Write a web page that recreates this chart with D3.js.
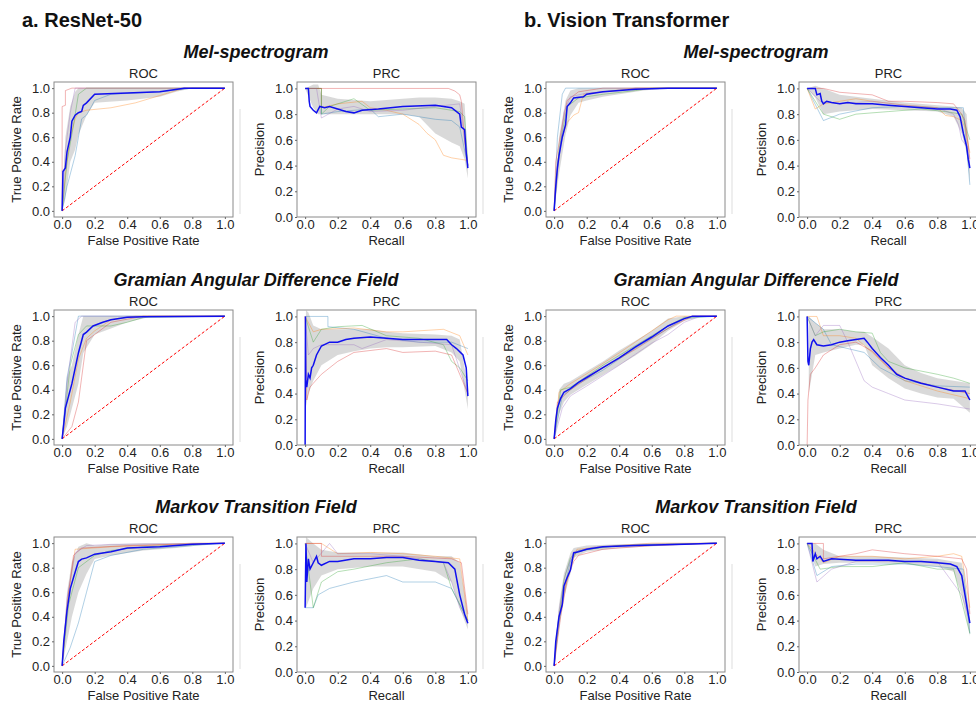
<!DOCTYPE html>
<html lang="en">
<head>
<meta charset="UTF-8">
<title>ROC / PRC curves</title>
<script src="https://d3js.org/d3.v7.min.js"></script>
<style>
  body { margin: 0; background: #fff; }
  text { font-family: "Liberation Sans", Arial, sans-serif; fill: #222; }
</style>
</head>
<body>
<div id="chart"></div>
<script>
// ---------- labels ----------
const modelTitles = ["a. ResNet-50", "b. Vision Transformer"];
const rowTitles = ["Mel-spectrogram", "Gramian Angular Difference Field", "Markov Transition Field"];
const ticks = [0, 0.2, 0.4, 0.6, 0.8, 1.0];

// ---------- ResNet-50 / Mel-spectrogram ----------
const resMelRocMean = [[0,0],[0.005,0.32],[0.02,0.35],[0.03,0.48],[0.05,0.6],[0.06,0.73],[0.08,0.78],[0.1,0.8],[0.12,0.81],[0.13,0.86],[0.15,0.88],[0.2,0.95],[0.4,0.96],[0.6,0.97],[0.75,1],[1,1]];
const resMelRocBand = [[0,0,0],[0.02,0.1,0.6],[0.05,0.4,0.85],[0.08,0.5,0.97],[0.1,0.62,1],[0.15,0.78,1],[0.2,0.88,1],[0.4,0.9,1],[0.6,0.93,1],[0.7,0.97,1],[0.8,1,1],[1,1,1]];
const resMelRocFolds = [
  [[0,0],[0.03,0.2],[0.08,0.45],[0.1,0.6],[0.12,0.75],[0.15,0.78],[0.18,0.85],[0.2,0.9],[0.3,0.95],[0.6,0.97],[0.8,1],[1,1]],
  [[0,0],[0.02,0.3],[0.05,0.6],[0.08,0.75],[0.1,0.8],[0.15,0.82],[0.3,0.84],[0.45,0.88],[0.6,0.94],[0.7,0.98],[0.75,1],[1,1]],
  [[0,0],[0.03,0.4],[0.07,0.7],[0.1,0.95],[0.15,1],[1,1]],
  [[0,0],[0,0.85],[0.02,0.86],[0.02,0.98],[0.06,1],[1,1]],
  [[0,0],[0.02,0.5],[0.05,0.8],[0.08,1],[1,1]]
];
const resMelPrcMean = [[0,1],[0.02,1],[0.025,0.9],[0.03,0.86],[0.05,0.83],[0.07,0.81],[0.09,0.86],[0.12,0.85],[0.15,0.86],[0.2,0.84],[0.25,0.82],[0.3,0.81],[0.35,0.83],[0.45,0.84],[0.6,0.86],[0.8,0.87],[0.9,0.85],[0.95,0.8],[0.96,0.7],[0.98,0.68],[0.99,0.5],[1,0.38]];
const resMelPrcBand = [[0,1,1],[0.05,0.85,1.03],[0.08,0.8,1.03],[0.1,0.8,0.95],[0.2,0.8,0.92],[0.4,0.8,0.9],[0.6,0.8,0.92],[0.7,0.78,0.93],[0.8,0.65,0.93],[0.9,0.58,0.92],[0.95,0.55,0.9],[0.98,0.45,0.88],[1,0.3,0.45]];
const resMelPrcFolds = [
  [[0,1],[0.1,1],[0.1,0.8],[0.2,0.82],[0.4,0.84],[0.45,0.78],[0.6,0.8],[0.8,0.76],[0.9,0.75],[0.95,0.7],[1,0.4]],
  [[0,1],[0.1,1],[0.1,0.85],[0.2,0.88],[0.35,0.9],[0.4,0.85],[0.5,0.83],[0.6,0.8],[0.7,0.72],[0.75,0.65],[0.8,0.6],[0.85,0.48],[0.9,0.46],[0.95,0.45],[1,0.44]],
  [[0,1],[0.1,1],[0.1,0.8],[0.15,0.86],[0.25,0.9],[0.3,0.92],[0.4,0.83],[0.6,0.84],[0.8,0.85],[0.95,0.82],[0.98,0.78],[1,0.4]],
  [[0,1],[0.7,1],[0.88,1],[0.92,0.98],[0.95,0.95],[0.96,0.9],[0.98,0.6],[1,0.4]],
  [[0,1],[0.07,1],[0.1,0.77],[0.2,0.84],[0.3,0.86],[0.4,0.82],[0.6,0.83],[0.8,0.86],[0.95,0.88],[0.98,0.6],[1,0.4]]
];

// ---------- ViT / Mel-spectrogram ----------
const vitMelRocMean = [[0,0],[0.01,0.2],[0.02,0.35],[0.03,0.45],[0.05,0.6],[0.07,0.7],[0.08,0.85],[0.1,0.88],[0.12,0.92],[0.18,0.93],[0.2,0.95],[0.3,0.97],[0.5,0.99],[0.7,1],[1,1]];
const vitMelRocBand = [[0,0,0],[0.03,0.3,0.6],[0.07,0.62,0.9],[0.1,0.78,0.98],[0.15,0.88,1],[0.2,0.9,1],[0.3,0.93,1],[0.45,0.96,1],[0.55,0.98,1],[0.7,1,1],[1,1,1]];
const vitMelRocFolds = [
  [[0,0],[0.02,0.6],[0.05,0.95],[0.07,1],[1,1]],
  [[0,0],[0.02,0.4],[0.05,0.6],[0.08,0.72],[0.12,0.78],[0.15,0.8],[0.18,0.95],[0.3,0.97],[0.5,1],[1,1]],
  [[0,0],[0.03,0.5],[0.08,0.85],[0.15,0.92],[0.3,0.95],[0.5,0.98],[0.6,1],[1,1]],
  [[0,0],[0.01,0.4],[0.05,0.7],[0.08,0.9],[0.15,0.97],[0.3,1],[1,1]],
  [[0,0],[0.02,0.3],[0.06,0.8],[0.1,0.93],[0.2,0.96],[0.4,0.98],[0.5,1],[1,1]]
];
const vitMelPrcMean = [[0,1],[0.05,1],[0.06,0.95],[0.08,0.96],[0.09,0.9],[0.1,0.88],[0.12,0.9],[0.15,0.89],[0.2,0.88],[0.25,0.89],[0.3,0.88],[0.4,0.88],[0.5,0.87],[0.6,0.86],[0.7,0.85],[0.8,0.84],[0.88,0.84],[0.92,0.83],[0.94,0.78],[0.96,0.65],[0.98,0.55],[0.99,0.45],[1,0.38]];
const vitMelPrcBand = [[0,1,1],[0.05,0.93,1.02],[0.1,0.8,1],[0.2,0.82,0.95],[0.4,0.84,0.92],[0.6,0.83,0.89],[0.8,0.82,0.87],[0.9,0.78,0.86],[0.95,0.65,0.85],[0.98,0.5,0.8],[1,0.27,0.45]];
const vitMelPrcFolds = [
  [[0,1],[0.1,0.75],[0.2,0.8],[0.4,0.85],[0.6,0.86],[0.8,0.85],[0.96,0.85],[1,0.25]],
  [[0,1],[0.05,0.84],[0.1,0.88],[0.3,0.92],[0.4,0.9],[0.6,0.87],[0.8,0.85],[0.85,0.79],[0.9,0.78],[0.95,0.75],[0.97,0.7],[1,0.5]],
  [[0,1],[0.1,0.8],[0.2,0.76],[0.3,0.8],[0.5,0.82],[0.7,0.84],[0.85,0.82],[0.95,0.8],[1,0.6]],
  [[0,1],[0.1,1],[0.2,0.97],[0.4,0.95],[0.5,0.9],[0.6,0.9],[0.8,0.89],[0.9,0.88],[0.95,0.8],[0.97,0.75],[1,0.45]],
  [[0,1],[0.08,0.9],[0.2,0.88],[0.4,0.9],[0.6,0.87],[0.8,0.85],[0.9,0.8],[0.93,0.72],[0.95,0.6],[0.98,0.55],[1,0.4]]
];

// ---------- ResNet-50 / GADF ----------
const resGadfRocMean = [[0,0],[0.01,0.12],[0.02,0.25],[0.04,0.35],[0.06,0.45],[0.1,0.7],[0.13,0.85],[0.15,0.87],[0.19,0.92],[0.25,0.95],[0.3,0.97],[0.4,0.99],[0.5,0.995],[1,1]];
const resGadfRocBand = [[0,0,0],[0.03,0.1,0.5],[0.06,0.25,0.6],[0.1,0.45,0.85],[0.13,0.7,1],[0.2,0.85,1],[0.3,0.9,1],[0.4,0.95,1],[0.5,0.98,1],[0.55,1,1],[1,1,1]];
const resGadfRocFolds = [
  [[0,0],[0.03,0.5],[0.06,0.7],[0.1,1],[1,1]],
  [[0,0],[0.05,0.3],[0.1,0.65],[0.15,0.82],[0.2,0.88],[0.3,0.97],[0.45,1],[1,1]],
  [[0,0],[0.05,0.6],[0.1,0.85],[0.15,0.92],[0.3,0.92],[0.4,0.95],[0.45,0.97],[0.5,0.99],[1,1]],
  [[0,0],[0.06,0.1],[0.1,0.3],[0.13,0.6],[0.15,0.8],[0.2,0.85],[0.3,0.95],[0.5,1],[1,1]],
  [[0,0],[0.03,0.45],[0.08,0.95],[0.12,1],[1,1]]
];
const resGadfPrcMean = [[0,0],[0.002,1],[0.004,0.5],[0.01,0.45],[0.02,0.55],[0.03,0.52],[0.04,0.6],[0.05,0.62],[0.07,0.7],[0.1,0.77],[0.15,0.8],[0.2,0.8],[0.25,0.82],[0.3,0.83],[0.4,0.84],[0.5,0.83],[0.6,0.82],[0.7,0.82],[0.8,0.82],[0.87,0.82],[0.9,0.78],[0.93,0.75],[0.97,0.7],[0.99,0.6],[1,0.38]];
const resGadfPrcBand = [[0.005,0.3,1.05],[0.02,0.4,1.03],[0.05,0.5,0.93],[0.1,0.62,0.9],[0.2,0.7,0.9],[0.3,0.73,0.9],[0.4,0.75,0.9],[0.5,0.76,0.88],[0.6,0.76,0.87],[0.8,0.77,0.86],[0.9,0.72,0.85],[0.95,0.65,0.82],[1,0.28,0.45]];
const resGadfPrcFolds = [
  [[0,1],[0.14,1],[0.14,0.92],[0.3,0.9],[0.5,0.83],[0.7,0.8],[0.9,0.8],[1,0.75]],
  [[0,1],[0.05,0.88],[0.1,0.9],[0.3,0.91],[0.5,0.88],[0.6,0.88],[0.85,0.9],[0.95,0.85],[1,0.7]],
  [[0,1],[0.05,0.8],[0.1,0.9],[0.2,0.92],[0.35,0.93],[0.5,0.85],[0.7,0.83],[0.85,0.78],[0.9,0.65],[0.95,0.6],[1,0.5]],
  [[0,1],[0.01,0.35],[0.03,0.45],[0.05,0.48],[0.1,0.55],[0.2,0.65],[0.3,0.72],[0.5,0.75],[0.6,0.72],[0.8,0.73],[0.9,0.7],[1,0.4]],
  [[0,1],[0.02,0.7],[0.05,0.75],[0.1,0.78],[0.3,0.78],[0.35,0.75],[0.5,0.82],[0.7,0.8],[0.9,0.78],[1,0.4]]
];

// ---------- ViT / GADF ----------
const vitGadfRocMean = [[0,0],[0.01,0.15],[0.02,0.25],[0.04,0.33],[0.06,0.38],[0.1,0.41],[0.15,0.46],[0.2,0.5],[0.3,0.58],[0.4,0.66],[0.5,0.75],[0.6,0.83],[0.7,0.92],[0.8,0.98],[0.85,1],[1,1]];
const vitGadfRocBand = [[0,0,0],[0.03,0.2,0.4],[0.06,0.3,0.45],[0.1,0.36,0.47],[0.2,0.44,0.55],[0.3,0.52,0.63],[0.4,0.6,0.72],[0.5,0.68,0.8],[0.6,0.77,0.88],[0.7,0.88,0.98],[0.8,0.96,1],[0.9,1,1],[1,1,1]];
const vitGadfRocFolds = [
  [[0,0],[0.05,0.35],[0.15,0.45],[0.3,0.56],[0.5,0.74],[0.65,0.86],[0.8,0.98],[1,1]],
  [[0,0],[0.03,0.38],[0.1,0.45],[0.2,0.53],[0.4,0.7],[0.6,0.88],[0.7,0.97],[0.75,1],[1,1]],
  [[0,0],[0.04,0.4],[0.1,0.42],[0.3,0.6],[0.5,0.76],[0.7,0.92],[0.8,0.99],[1,1]],
  [[0,0],[0.02,0.3],[0.1,0.4],[0.3,0.58],[0.5,0.73],[0.7,0.9],[0.85,1],[1,1]],
  [[0,0],[0.05,0.25],[0.1,0.35],[0.2,0.43],[0.4,0.6],[0.6,0.78],[0.7,0.85],[0.8,0.95],[0.9,1],[1,1]]
];
const vitGadfPrcMean = [[0,1],[0.005,0.65],[0.01,0.62],[0.02,0.75],[0.03,0.8],[0.04,0.82],[0.06,0.78],[0.1,0.77],[0.15,0.78],[0.2,0.8],[0.25,0.81],[0.3,0.82],[0.35,0.83],[0.37,0.8],[0.4,0.75],[0.45,0.68],[0.5,0.62],[0.55,0.55],[0.6,0.52],[0.7,0.48],[0.8,0.45],[0.9,0.42],[0.97,0.42],[1,0.35]];
const vitGadfPrcBand = [[0.01,0.4,1],[0.05,0.7,0.95],[0.1,0.72,0.9],[0.2,0.75,0.9],[0.3,0.78,0.88],[0.35,0.78,0.88],[0.4,0.62,0.84],[0.5,0.52,0.75],[0.6,0.44,0.62],[0.7,0.4,0.56],[0.8,0.37,0.52],[0.9,0.36,0.5],[1,0.25,0.48]];
const vitGadfPrcFolds = [
  [[0,1],[0.1,0.9],[0.15,0.78],[0.25,0.75],[0.35,0.72],[0.45,0.6],[0.6,0.5],[0.8,0.46],[1,0.45]],
  [[0,1],[0.06,1],[0.1,0.85],[0.2,0.85],[0.3,0.83],[0.4,0.72],[0.5,0.6],[0.6,0.5],[0.8,0.42],[1,0.36]],
  [[0,1],[0.05,0.85],[0.1,0.88],[0.2,0.9],[0.3,0.88],[0.4,0.87],[0.45,0.72],[0.5,0.65],[0.6,0.6],[0.8,0.55],[0.9,0.52],[1,0.48]],
  [[0,0],[0.005,0.35],[0.02,0.55],[0.05,0.6],[0.1,0.7],[0.2,0.78],[0.3,0.8],[0.4,0.73],[0.5,0.6],[0.6,0.52],[0.8,0.45],[1,0.4]],
  [[0,1],[0.05,0.85],[0.1,0.93],[0.2,0.93],[0.25,0.8],[0.3,0.65],[0.35,0.5],[0.4,0.45],[0.5,0.4],[0.6,0.35],[0.8,0.32],[1,0.28]]
];

// ---------- ResNet-50 / MTF ----------
const resMtfRocMean = [[0,0],[0.01,0.2],[0.03,0.45],[0.05,0.63],[0.07,0.72],[0.1,0.85],[0.12,0.87],[0.15,0.88],[0.2,0.91],[0.3,0.93],[0.4,0.96],[0.6,0.97],[0.8,0.99],[1,1]];
const resMtfRocBand = [[0,0,0],[0.03,0.2,0.6],[0.06,0.4,0.85],[0.1,0.6,0.97],[0.15,0.75,1],[0.2,0.87,0.98],[0.3,0.9,0.99],[0.5,0.94,1],[0.7,0.96,1],[0.9,0.99,1],[1,1,1]];
const resMtfRocFolds = [
  [[0,0],[0.05,0.15],[0.1,0.35],[0.15,0.6],[0.2,0.85],[0.3,0.9],[0.5,0.95],[0.8,0.98],[1,1]],
  [[0,0],[0.04,0.6],[0.08,0.95],[0.3,0.97],[0.5,0.98],[0.8,1],[1,1]],
  [[0,0],[0.04,0.5],[0.1,0.8],[0.2,0.9],[0.3,0.94],[0.5,0.97],[1,1]],
  [[0,0],[0.03,0.5],[0.07,0.9],[0.12,0.96],[0.4,0.98],[1,1]],
  [[0,0],[0.03,0.55],[0.08,0.92],[0.15,0.98],[0.3,0.99],[1,1]]
];
const resMtfPrcMean = [[0,0.5],[0.005,1],[0.01,0.7],[0.02,0.88],[0.03,0.8],[0.05,0.85],[0.07,0.9],[0.08,0.85],[0.1,0.83],[0.15,0.86],[0.2,0.86],[0.3,0.88],[0.4,0.88],[0.5,0.89],[0.6,0.89],[0.7,0.87],[0.8,0.86],[0.88,0.85],[0.92,0.8],[0.95,0.6],[0.98,0.45],[1,0.38]];
const resMtfPrcBand = [[0.005,0.5,1.05],[0.05,0.65,1],[0.1,0.75,0.95],[0.2,0.8,0.93],[0.4,0.82,0.93],[0.6,0.82,0.93],[0.8,0.78,0.9],[0.9,0.7,0.9],[0.95,0.5,0.85],[1,0.33,0.45]];
const resMtfPrcFolds = [
  [[0,0.5],[0.05,0.5],[0.08,0.6],[0.15,0.65],[0.3,0.7],[0.5,0.75],[0.6,0.7],[0.8,0.7],[0.9,0.65],[1,0.4]],
  [[0,1],[0.1,1],[0.2,0.92],[0.4,0.93],[0.6,0.92],[0.8,0.9],[0.95,0.88],[0.98,0.6],[1,0.4]],
  [[0,1],[0.05,0.5],[0.1,0.7],[0.2,0.78],[0.3,0.8],[0.5,0.85],[0.7,0.88],[0.85,0.85],[0.9,0.65],[1,0.4]],
  [[0,1],[0.1,1],[0.1,0.9],[0.3,0.9],[0.6,0.9],[0.9,0.88],[0.96,0.85],[1,0.45]],
  [[0,1],[0.05,0.85],[0.15,1],[0.2,0.92],[0.4,0.92],[0.6,0.9],[0.85,0.85],[0.9,0.7],[0.95,0.5],[1,0.38]]
];

// ---------- ViT / MTF ----------
const vitMtfRocMean = [[0,0],[0.01,0.2],[0.03,0.4],[0.05,0.5],[0.06,0.65],[0.08,0.72],[0.1,0.78],[0.12,0.92],[0.15,0.93],[0.2,0.95],[0.3,0.97],[0.5,0.98],[0.8,0.99],[1,1]];
const vitMtfRocBand = [[0,0,0],[0.03,0.3,0.5],[0.06,0.55,0.75],[0.1,0.75,0.92],[0.12,0.88,0.96],[0.2,0.93,0.98],[0.4,0.96,0.99],[0.7,0.98,1],[1,1,1]];
const vitMtfRocFolds = [
  [[0,0],[0.03,0.35],[0.07,0.68],[0.1,0.85],[0.14,0.93],[0.3,0.97],[0.6,0.99],[1,1]],
  [[0,0],[0.03,0.4],[0.06,0.6],[0.1,0.8],[0.14,0.95],[0.3,0.97],[0.6,1],[1,1]],
  [[0,0],[0.02,0.3],[0.06,0.7],[0.1,0.88],[0.15,0.94],[0.4,0.98],[1,1]],
  [[0,0],[0.04,0.4],[0.08,0.7],[0.12,0.85],[0.15,0.9],[0.3,0.95],[0.6,0.98],[1,1]],
  [[0,0],[0.03,0.45],[0.07,0.75],[0.12,0.93],[0.25,0.97],[0.5,0.99],[1,1]]
];
const vitMtfPrcMean = [[0,1],[0.03,1],[0.035,0.86],[0.05,0.92],[0.06,0.88],[0.08,0.9],[0.1,0.86],[0.15,0.88],[0.3,0.87],[0.5,0.87],[0.6,0.86],[0.7,0.86],[0.8,0.85],[0.88,0.84],[0.92,0.82],[0.95,0.75],[0.97,0.6],[0.99,0.45],[1,0.38]];
const vitMtfPrcBand = [[0,1,1],[0.05,0.82,1],[0.1,0.84,0.95],[0.2,0.85,0.9],[0.4,0.85,0.9],[0.6,0.84,0.89],[0.8,0.82,0.88],[0.9,0.78,0.86],[0.95,0.6,0.85],[1,0.28,0.45]];
const vitMtfPrcFolds = [
  [[0,1],[0.06,0.75],[0.15,0.82],[0.3,0.84],[0.6,0.84],[0.8,0.82],[0.96,0.8],[1,0.3]],
  [[0,1],[0.1,0.85],[0.2,0.9],[0.4,0.9],[0.6,0.88],[0.8,0.9],[0.9,0.92],[0.95,0.9],[1,0.5]],
  [[0,1],[0.08,0.8],[0.2,0.82],[0.4,0.82],[0.6,0.85],[0.8,0.8],[0.9,0.8],[1,0.3]],
  [[0,1],[0.1,1],[0.1,0.88],[0.3,0.92],[0.4,0.95],[0.6,0.92],[0.8,0.9],[0.95,0.88],[0.98,0.8],[1,0.45]],
  [[0,1],[0.06,0.7],[0.15,0.8],[0.3,0.86],[0.6,0.86],[0.8,0.86],[0.95,0.6],[1,0.4]]
];

// panel table: model (0 ResNet, 1 ViT), row (0 Mel, 1 GADF, 2 MTF), kind
const panels = [
  {model:0, row:0, kind:"roc", mean:resMelRocMean, band:resMelRocBand, folds:resMelRocFolds},
  {model:0, row:0, kind:"prc", mean:resMelPrcMean, band:resMelPrcBand, folds:resMelPrcFolds},
  {model:1, row:0, kind:"roc", mean:vitMelRocMean, band:vitMelRocBand, folds:vitMelRocFolds},
  {model:1, row:0, kind:"prc", mean:vitMelPrcMean, band:vitMelPrcBand, folds:vitMelPrcFolds},
  {model:0, row:1, kind:"roc", mean:resGadfRocMean, band:resGadfRocBand, folds:resGadfRocFolds},
  {model:0, row:1, kind:"prc", mean:resGadfPrcMean, band:resGadfPrcBand, folds:resGadfPrcFolds},
  {model:1, row:1, kind:"roc", mean:vitGadfRocMean, band:vitGadfRocBand, folds:vitGadfRocFolds},
  {model:1, row:1, kind:"prc", mean:vitGadfPrcMean, band:vitGadfPrcBand, folds:vitGadfPrcFolds},
  {model:0, row:2, kind:"roc", mean:resMtfRocMean, band:resMtfRocBand, folds:resMtfRocFolds},
  {model:0, row:2, kind:"prc", mean:resMtfPrcMean, band:resMtfPrcBand, folds:resMtfPrcFolds},
  {model:1, row:2, kind:"roc", mean:vitMtfRocMean, band:vitMtfRocBand, folds:vitMtfRocFolds},
  {model:1, row:2, kind:"prc", mean:vitMtfPrcMean, band:vitMtfPrcBand, folds:vitMtfPrcFolds}
];

// ---------- layout ----------
const width = 976, height = 701;
const colLeft = [54, 297, 546, 799];   // ResNet ROC, ResNet PRC, ViT ROC, ViT PRC
const rowTop = [82, 310, 537];
const W = 179, H = 135;
const foldColors = ["#1f77b4", "#ff7f0e", "#2ca02c", "#d62728", "#9467bd"];

const svg = d3.select("#chart").append("svg")
  .attr("width", width)
  .attr("height", height);

// model titles
svg.selectAll("text.model")
  .data(modelTitles)
  .enter().append("text")
    .attr("class", "model")
    .attr("x", (d, i) => i === 0 ? 22 : 524)
    .attr("y", 27)
    .attr("font-size", "20px")
    .attr("font-weight", "bold")
    .style("fill", "#111")
    .text(d => d);

// row titles (one per model)
rowTitles.forEach((t, r) => {
  [256, 756].forEach(cx => {
    svg.append("text")
      .attr("x", cx)
      .attr("y", rowTop[r] - 24)
      .attr("text-anchor", "middle")
      .attr("font-size", "18px")
      .attr("font-weight", "bold")
      .attr("font-style", "italic")
      .style("fill", "#111")
      .text(t);
  });
});

panels.forEach((p, idx) => {
  const left = colLeft[p.model * 2 + (p.kind === "roc" ? 0 : 1)];
  const top = rowTop[p.row];

  const x = d3.scaleLinear().domain([-0.05, 1.05]).range([left, left + W]);
  const y = d3.scaleLinear()
    .domain(p.kind === "roc" ? [-0.05, 1.05] : [0, 1.05])
    .range([top + H, top]);

  const g = svg.append("g");

  // faint edge of the neighbouring (cropped) legend box
  g.append("line")
    .attr("x1", left + W + 7).attr("x2", left + W + 7)
    .attr("y1", top + 27).attr("y2", top + H - 3)
    .attr("stroke", "#ddd")
    .attr("stroke-width", 1);

  const clipId = "clip" + idx;
  g.append("clipPath").attr("id", clipId)
    .append("rect")
      .attr("x", left).attr("y", top)
      .attr("width", W).attr("height", H);

  const plot = g.append("g").attr("clip-path", "url(#" + clipId + ")");

  // std band
  const area = d3.area()
    .x(d => x(d[0]))
    .y0(d => y(d[1]))
    .y1(d => y(d[2]));
  plot.append("path")
    .datum(p.band)
    .attr("d", area)
    .attr("fill", "grey")
    .attr("opacity", 0.3);

  const line = d3.line().x(d => x(d[0])).y(d => y(d[1]));

  // individual folds
  plot.selectAll("path.fold")
    .data(p.folds)
    .enter().append("path")
      .attr("class", "fold")
      .attr("d", line)
      .attr("fill", "none")
      .attr("stroke", (d, i) => foldColors[i])
      .attr("stroke-opacity", 0.35)
      .attr("stroke-width", 1);

  // chance line
  if (p.kind === "roc") {
    plot.append("path")
      .datum([[0, 0], [1, 1]])
      .attr("d", line)
      .attr("fill", "none")
      .attr("stroke", "red")
      .attr("stroke-width", 1)
      .attr("stroke-dasharray", "3,2");
  }

  // mean curve
  plot.append("path")
    .datum(p.mean)
    .attr("d", line)
    .attr("fill", "none")
    .attr("stroke", "#1010ee")
    .attr("stroke-width", 1.5);

  // frame
  g.append("rect")
    .attr("x", left).attr("y", top)
    .attr("width", W).attr("height", H)
    .attr("fill", "none")
    .attr("stroke", "#8a8a8a")
    .attr("stroke-width", 1);

  // axes
  const xAxis = g.append("g")
    .attr("transform", "translate(0," + (top + H) + ")")
    .call(d3.axisBottom(x).tickValues(ticks).tickFormat(d3.format(".1f")).tickSize(2).tickPadding(1));
  const yAxis = g.append("g")
    .attr("transform", "translate(" + left + ",0)")
    .call(d3.axisLeft(y).tickValues(ticks).tickFormat(d3.format(".1f")).tickSize(2).tickPadding(2));
  [xAxis, yAxis].forEach(a => {
    a.select(".domain").remove();
    a.selectAll("line").attr("stroke", "#666");
    a.selectAll("text")
      .attr("font-size", "13px")
      .attr("font-family", "Liberation Sans, Arial, sans-serif")
      .style("fill", "#222");
  });

  // titles
  g.append("text")
    .attr("x", left + W / 2)
    .attr("y", top - 4)
    .attr("text-anchor", "middle")
    .attr("font-size", "13px")
    .text(p.kind === "roc" ? "ROC" : "PRC");

  g.append("text")
    .attr("x", left + W / 2)
    .attr("y", top + H + 28)
    .attr("text-anchor", "middle")
    .attr("font-size", "13px")
    .text(p.kind === "roc" ? "False Positive Rate" : "Recall");

  g.append("text")
    .attr("transform", "translate(" + (left - 33) + "," + (top + H / 2) + ") rotate(-90)")
    .attr("text-anchor", "middle")
    .attr("font-size", "13px")
    .text(p.kind === "roc" ? "True Positive Rate" : "Precision");
});
</script>
</body>
</html>
